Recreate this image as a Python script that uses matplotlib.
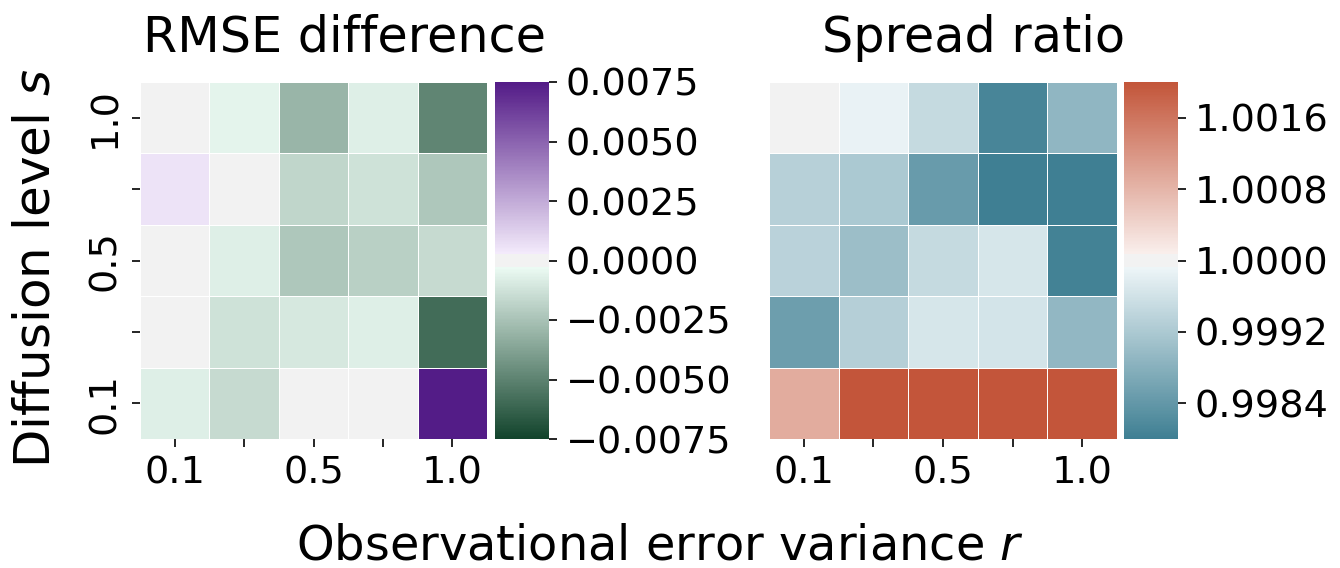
import colorsys
import numpy as np
import matplotlib
matplotlib.use("Agg")
import matplotlib.pyplot as plt
from matplotlib.colors import LinearSegmentedColormap
import seaborn as sns

# axes categories (rows top->bottom: diffusion level s; columns: obs. error variance r)
row_labels = ["1.0", "", "0.5", "", "0.1"]
col_labels = ["0.1", "", "0.5", "", "1.0"]

# RMSE difference values
rmse_diff = [
    [0.0,      -0.00053, -0.0030,  -0.00072, -0.0049],
    [0.00054,   0.0,     -0.00171, -0.00125, -0.00229],
    [0.0,      -0.00072, -0.00233, -0.00198, -0.00157],
    [0.0,      -0.00125, -0.0010,  -0.00076, -0.0059],
    [-0.00072, -0.00157,  0.0,      0.0,      0.0080],
]

# Spread ratio values
spread_ratio = [
    [1.0,     0.99986, 0.99948, 0.99810, 0.99890],
    [0.99932, 0.99919, 0.99846, 0.99790, 0.99790],
    [0.99935, 0.99902, 0.99948, 0.99966, 0.99806],
    [0.99850, 0.99930, 0.99966, 0.99963, 0.99892],
    [1.00092, 1.00210, 1.00210, 1.00210, 1.00210],
]

rmse_ticks = [-0.0075, -0.005, -0.0025, 0.0, 0.0025, 0.005, 0.0075]
spread_ticks = [0.9984, 0.9992, 1.0000, 1.0008, 1.0016]


def old_diverging(h_neg, h_pos, sep=10, **kw):
    """Diverging map in the style of older seaborn (HLS-lightened ends, sep=10)."""
    base = sns.diverging_palette(h_neg, h_pos, as_cmap=True, **kw)
    neg_end = np.array(base(0.0)[:3])
    pos_end = np.array(base(1.0)[:3])

    def lighten(c):
        h, l, s = colorsys.rgb_to_hls(*c)
        return np.array(colorsys.hls_to_rgb(h, 0.95, s))

    n_half = 128 - sep // 2
    t = np.linspace(0, 1, n_half)[:, None]
    neg = neg_end * (1 - t) + lighten(neg_end) * t
    pos = lighten(pos_end) * (1 - t) + pos_end * t
    mid = np.tile([0.95, 0.95, 0.95], (sep, 1))
    colors = np.vstack([neg, mid, pos])
    return LinearSegmentedColormap.from_list("div", colors, N=256)


W, H = 1340, 568
fig = plt.figure(figsize=(W / 100, H / 100), dpi=100)


def ax_px(x0, y0, x1, y1):
    return fig.add_axes([x0 / W, 1 - y1 / H, (x1 - x0) / W, (y1 - y0) / H])


ax1 = ax_px(140, 82, 487, 439)
cax1 = ax_px(495, 82, 549, 439)
ax2 = ax_px(769, 82, 1117, 439)
cax2 = ax_px(1124, 82, 1178, 439)

cmap1 = old_diverging(145, 280, s=85, l=25)
cmap2 = old_diverging(220, 20)

tick_fs = 27.5

sns.heatmap(np.array(rmse_diff), ax=ax1, cbar_ax=cax1, cmap=cmap1, center=0,
            vmin=-0.0075, vmax=0.0075, linewidths=0.6, linecolor="white")
sns.heatmap(np.array(spread_ratio), ax=ax2, cbar_ax=cax2, cmap=cmap2, center=1.0,
            vmin=0.998, vmax=1.002, linewidths=0.6, linecolor="white")

for ax in (ax1, ax2):
    ax.set_xticks(np.arange(5) + 0.5)
    ax.set_xticklabels(col_labels, fontsize=tick_fs, rotation=0)
    ax.tick_params(axis="both", length=6, width=1.2, pad=6)

ax1.set_yticks(np.arange(5) + 0.5)
ax1.set_yticklabels(row_labels, fontsize=tick_fs, rotation=90, va="center")
ax2.set_yticks([])

cax1.set_yticks(rmse_ticks)
cax1.set_yticklabels([f"{v:.4f}".replace("-", "\u2212") for v in rmse_ticks], fontsize=tick_fs)
cax2.set_yticks(spread_ticks)
cax2.set_yticklabels([f"{v:.4f}" for v in spread_ticks], fontsize=tick_fs)
for cax in (cax1, cax2):
    cax.tick_params(length=6, width=1.2, pad=6)

fig.text(344.5 / W, 1 - 38 / H, "RMSE difference", fontsize=35.5, ha="center", va="center")
fig.text(973.5 / W, 1 - 38 / H, "Spread ratio", fontsize=35.5, ha="center", va="center")
fig.text(36 / W, 1 - 268 / H, "Diffusion level $s$", fontsize=36, ha="center", va="center",
         rotation=90)
fig.text(660 / W, 1 - 546 / H, "Observational error variance $r$", fontsize=34.5,
         ha="center", va="center")

fig.savefig("out.png", dpi=100)
